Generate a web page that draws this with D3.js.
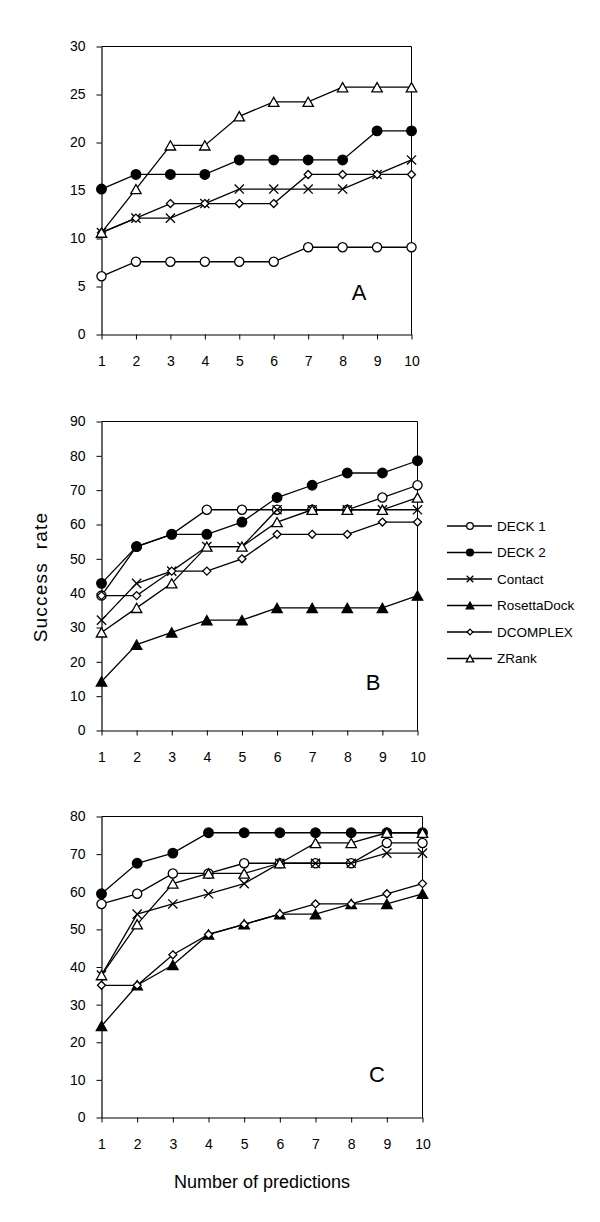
<!DOCTYPE html>
<html>
<head>
<meta charset="utf-8">
<script src="https://cdn.jsdelivr.net/npm/d3@7/dist/d3.min.js"></script>
<style>
  html, body { margin: 0; padding: 0; background: #fff; }
  svg { display: block; font-family: "Liberation Sans", Arial, sans-serif; }
</style>
</head>
<body>
<svg id="chart" width="600" height="1222"></svg>
<script>
// ---------- data ----------
const predictions = [1, 2, 3, 4, 5, 6, 7, 8, 9, 10];
const seriesNames = ["DECK 1", "DECK 2", "Contact", "RosettaDock", "DCOMPLEX", "ZRank"];
const markerTypes = ["circleOpen", "circleFilled", "cross", "triangleFilled", "diamondOpen", "triangleOpen"];

// Panel A (no RosettaDock series)
const deck1A    = [6.06, 7.58, 7.58, 7.58, 7.58, 7.58, 9.09, 9.09, 9.09, 9.09];
const deck2A    = [15.15, 16.67, 16.67, 16.67, 18.18, 18.18, 18.18, 18.18, 21.21, 21.21];
const contactA  = [10.61, 12.12, 12.12, 13.64, 15.15, 15.15, 15.15, 15.15, 16.67, 18.18];
const rosettaA  = null;
const dcomplexA = [10.61, 12.12, 13.64, 13.64, 13.64, 13.64, 16.67, 16.67, 16.67, 16.67];
const zrankA    = [10.61, 15.15, 19.70, 19.70, 22.73, 24.24, 24.24, 25.76, 25.76, 25.76];

// Panel B
const deck1B    = [39.29, 53.57, 57.14, 64.29, 64.29, 64.29, 64.29, 64.29, 67.86, 71.43];
const deck2B    = [42.86, 53.57, 57.14, 57.14, 60.71, 67.86, 71.43, 75.00, 75.00, 78.57];
const contactB  = [32.14, 42.86, 46.43, 53.57, 53.57, 64.29, 64.29, 64.29, 64.29, 64.29];
const rosettaB  = [14.29, 25.00, 28.57, 32.14, 32.14, 35.71, 35.71, 35.71, 35.71, 39.29];
const dcomplexB = [39.29, 39.29, 46.43, 46.43, 50.00, 57.14, 57.14, 57.14, 60.71, 60.71];
const zrankB    = [28.57, 35.71, 42.86, 53.57, 53.57, 60.71, 64.29, 64.29, 64.29, 67.86];

// Panel C
const deck1C    = [56.76, 59.46, 64.86, 64.86, 67.57, 67.57, 67.57, 67.57, 72.97, 72.97];
const deck2C    = [59.46, 67.57, 70.27, 75.68, 75.68, 75.68, 75.68, 75.68, 75.68, 75.68];
const contactC  = [37.84, 54.05, 56.76, 59.46, 62.16, 67.57, 67.57, 67.57, 70.27, 70.27];
const rosettaC  = [24.32, 35.14, 40.54, 48.65, 51.35, 54.05, 54.05, 56.76, 56.76, 59.46];
const dcomplexC = [35.14, 35.14, 43.24, 48.65, 51.35, 54.05, 56.76, 56.76, 59.46, 62.16];
const zrankC    = [37.84, 51.35, 62.16, 64.86, 64.86, 67.57, 72.97, 72.97, 75.68, 75.68];

const yTicksA = [0, 5, 10, 15, 20, 25, 30];
const yTicksB = [0, 10, 20, 30, 40, 50, 60, 70, 80, 90];
const yTicksC = [0, 10, 20, 30, 40, 50, 60, 70, 80];
const panelLabels = ["A", "B", "C"];
const xTitle = "Number of predictions";
const yTitle = "Success  rate";

// ---------- layout ----------
const panels = [
  { label: "A", series: [deck1A, deck2A, contactA, rosettaA, dcomplexA, zrankA], ticks: yTicksA,
    left: 101.5, right: 411.5, top: 46.5, bottom: 334.5, lx: 359, ly: 292 },
  { label: "B", series: [deck1B, deck2B, contactB, rosettaB, dcomplexB, zrankB], ticks: yTicksB,
    left: 101.5, right: 417.5, top: 421.5, bottom: 730.5, lx: 373, ly: 682 },
  { label: "C", series: [deck1C, deck2C, contactC, rosettaC, dcomplexC, zrankC], ticks: yTicksC,
    left: 101.5, right: 422.5, top: 816.5, bottom: 1117.5, lx: 377, ly: 1074 }
];

const svg = d3.select("#chart");

function drawMarker(g, type, s) {
  // s = scale factor (1 for plot, smaller for legend)
  const sw = 1.3;
  switch (type) {
    case "circleOpen":
      g.append("circle").attr("r", 4.6 * s).attr("fill", "#fff").attr("stroke", "#000").attr("stroke-width", sw);
      break;
    case "circleFilled":
      g.append("circle").attr("r", 4.8 * s).attr("fill", "#000").attr("stroke", "#000").attr("stroke-width", sw);
      break;
    case "cross": {
      const a = 4.6 * s;
      g.append("path").attr("d", `M${-a},${-a}L${a},${a}M${-a},${a}L${a},${-a}`)
        .attr("stroke", "#000").attr("stroke-width", sw).attr("fill", "none");
      break;
    }
    case "triangleFilled":
    case "triangleOpen": {
      const w = 5.2 * s, h = 4.6 * s;
      g.append("path").attr("d", `M0,${-h}L${w},${h}L${-w},${h}Z`)
        .attr("fill", type === "triangleFilled" ? "#000" : "#fff")
        .attr("stroke", "#000").attr("stroke-width", sw).attr("stroke-linejoin", "miter");
      break;
    }
    case "diamondOpen": {
      const d = 4.0 * s;
      g.append("path").attr("d", `M0,${-d}L${d},0L0,${d}L${-d},0Z`)
        .attr("fill", "#fff").attr("stroke", "#000").attr("stroke-width", sw);
      break;
    }
  }
}

panels.forEach(p => {
  const ymax = p.ticks[p.ticks.length - 1];
  const x = d3.scaleLinear().domain([1, 10]).range([p.left, p.right]);
  const y = d3.scaleLinear().domain([0, ymax]).range([p.bottom, p.top]);
  const g = svg.append("g");

  // frame (top and right)
  g.append("path")
    .attr("d", `M${p.left},${p.top}H${p.right}V${p.bottom}`)
    .attr("fill", "none").attr("stroke", "#000").attr("stroke-width", 1);

  // axes
  const ya = g.append("g").attr("transform", `translate(${p.left},0)`)
    .call(d3.axisLeft(y).tickValues(p.ticks).tickSize(5).tickPadding(11).tickSizeOuter(0));
  const xa = g.append("g").attr("transform", `translate(0,${p.bottom})`)
    .call(d3.axisBottom(x).tickValues(predictions).tickFormat(d3.format("d")).tickSize(5).tickPadding(17).tickSizeOuter(0));
  [ya, xa].forEach(a => {
    a.selectAll("path.domain").attr("stroke", "#000").attr("stroke-width", 1.2);
    a.selectAll(".tick line").attr("stroke", "#000").attr("stroke-width", 1);
    a.selectAll(".tick text").attr("fill", "#000").style("font-size", "14px")
      .style("font-family", "'Liberation Sans', Arial, sans-serif");
  });

  // series
  const line = d3.line().x((d, i) => x(predictions[i])).y(d => y(d));
  p.series.forEach((vals, si) => {
    if (!vals) return;
    const sg = g.append("g");
    sg.append("path").attr("d", line(vals)).attr("fill", "none")
      .attr("stroke", "#000").attr("stroke-width", 1.3);
    vals.forEach((v, i) => {
      const mg = sg.append("g").attr("transform", `translate(${x(predictions[i])},${y(v)})`);
      drawMarker(mg, markerTypes[si], 1);
    });
  });

  // panel label
  g.append("text").attr("x", p.lx).attr("y", p.ly).attr("text-anchor", "middle")
    .attr("dominant-baseline", "central").style("font-size", "22px").attr("fill", "#000")
    .text(p.label);
});

// axis titles
svg.append("text").attr("x", 262).attr("y", 1182).attr("text-anchor", "middle")
  .attr("dominant-baseline", "central").style("font-size", "18px").attr("fill", "#000").text(xTitle);

svg.append("text").attr("transform", "translate(40,577) rotate(-90)").attr("text-anchor", "middle")
  .attr("dominant-baseline", "central").style("font-size", "19px").style("letter-spacing", "1.2px")
  .style("white-space", "pre").attr("fill", "#000").text(yTitle);

// legend
const legendY = d3.scalePoint().domain(seriesNames).range([526, 658.5]);
const lg = svg.append("g");
seriesNames.forEach((name, i) => {
  const yy = legendY(name);
  lg.append("line").attr("x1", 447).attr("x2", 492).attr("y1", yy).attr("y2", yy)
    .attr("stroke", "#000").attr("stroke-width", 1.3);
  const mg = lg.append("g").attr("transform", `translate(470,${yy})`);
  drawMarker(mg, markerTypes[i], 0.72);
  lg.append("text").attr("x", 497).attr("y", yy).attr("dominant-baseline", "central")
    .style("font-size", "13.5px").attr("fill", "#000").text(name);
});
</script>
</body>
</html>
